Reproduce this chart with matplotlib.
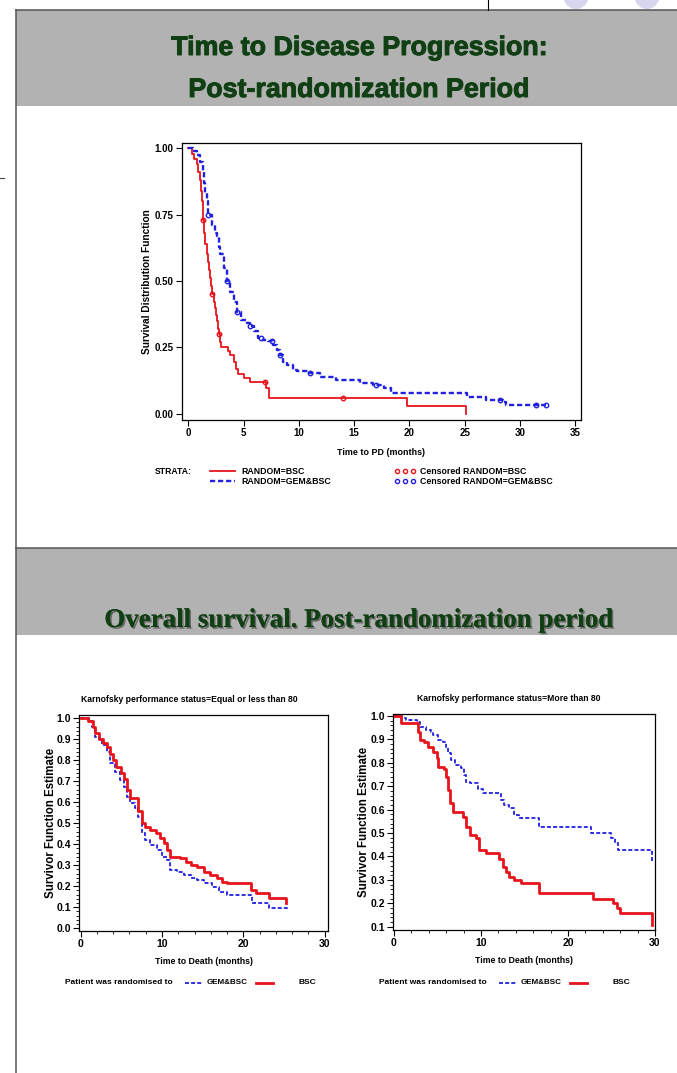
import numpy as np
import matplotlib
matplotlib.use("Agg")
import matplotlib.pyplot as plt
import matplotlib.patheffects as pe
from matplotlib.patches import Rectangle, Ellipse
from matplotlib.ticker import AutoMinorLocator, FormatStrFormatter

plt.rcParams['font.family'] = ['Liberation Sans', 'DejaVu Sans']
plt.rcParams['font.weight'] = 'bold'
plt.rcParams['axes.labelweight'] = 'bold'

RED = '#e8141c'
BLUE = '#2020e0'
GREEN = '#0f3f12'
GRAY = '#b2b2b2'

# Time to disease progression (months) - Kaplan-Meier steps
ttp_bsc_t = [0, 0.3, 0.5, 0.75, 0.9, 1.06, 1.15, 1.2, 1.3, 1.4, 1.5, 1.65, 1.8, 1.9, 1.96,
             2.05, 2.1, 2.3, 2.4, 2.5, 2.6, 2.7, 2.8, 2.9, 3.0, 3.6, 3.8, 4.1, 4.3, 4.5,
             5.0, 5.6, 7.0, 7.3, 19.8, 25.1]
ttp_bsc_s = [1.0, 0.98, 0.96, 0.94, 0.91, 0.88, 0.84, 0.80, 0.73, 0.68, 0.64, 0.60, 0.57, 0.54, 0.51,
             0.48, 0.45, 0.42, 0.40, 0.37, 0.35, 0.32, 0.30, 0.27, 0.25, 0.235, 0.22, 0.196, 0.17, 0.15,
             0.133, 0.12, 0.096, 0.058, 0.028, 0.0]
ttp_bsc_cens = [1.3, 2.1, 2.8, 6.9, 14.0]

ttp_gem_t = [0, 0.45, 0.75, 1.06, 1.36, 1.45, 1.5, 1.66, 1.8, 2.1, 2.4, 2.6, 2.75, 2.9, 3.2,
             3.5, 3.8, 4.1, 4.4, 4.8, 5.3, 5.6, 5.9, 6.3, 6.8, 7.2, 7.7, 8.0, 8.3, 8.6,
             8.9, 9.5, 9.8, 11.0, 11.9, 13.4, 15.5, 16.7, 17.7, 18.3, 25.2, 26.9, 28.5, 28.7, 32.4]
ttp_gem_s = [1.0, 0.99, 0.977, 0.95, 0.914, 0.87, 0.83, 0.80, 0.75, 0.71, 0.68, 0.67, 0.63, 0.60, 0.55,
             0.50, 0.46, 0.42, 0.385, 0.354, 0.341, 0.33, 0.31, 0.285, 0.278, 0.272, 0.26, 0.24, 0.22, 0.196,
             0.184, 0.165, 0.159, 0.152, 0.14, 0.127, 0.115, 0.108, 0.096, 0.077, 0.064, 0.052, 0.045, 0.033, 0.033]
ttp_gem_cens = [1.8, 3.5, 4.4, 5.6, 6.6, 7.6, 8.3, 11.0, 17.0, 28.2, 31.5, 32.4]

# Overall survival, Karnofsky <= 80
os_low_bsc_t = [0, 0.95, 1.56, 1.8, 2.2, 2.8, 3.2, 3.6, 4.0, 4.4, 4.9, 5.3, 5.7, 6.1, 7.1, 7.5,
                7.9, 8.5, 9.2, 9.8, 10.2, 10.6, 11.0, 12.2, 12.9, 13.5, 14.3, 15.1, 15.9, 16.8,
                17.4, 18.0, 20.9, 21.5, 23.1, 25.2]
os_low_bsc_s = [1.0, 0.985, 0.96, 0.93, 0.90, 0.88, 0.865, 0.83, 0.80, 0.77, 0.74, 0.71, 0.66, 0.62, 0.56, 0.50,
                0.484, 0.468, 0.452, 0.43, 0.405, 0.373, 0.34, 0.333, 0.317, 0.30, 0.29, 0.27, 0.254, 0.238,
                0.222, 0.214, 0.183, 0.167, 0.143, 0.12]
os_low_gem_t = [0, 1.0, 1.36, 1.77, 2.2, 2.6, 3.2, 3.6, 4.2, 4.85, 5.3, 5.7, 6.1, 6.7, 7.1, 7.5,
                7.9, 8.5, 9.4, 10.0, 10.6, 11.0, 11.8, 12.7, 13.5, 14.3, 15.1, 16.2, 17.0, 18.0,
                21.1, 23.2, 25.3]
os_low_gem_s = [1.0, 0.985, 0.96, 0.91, 0.90, 0.873, 0.84, 0.786, 0.746, 0.706, 0.675, 0.627, 0.595, 0.571, 0.53, 0.452,
                0.42, 0.397, 0.373, 0.34, 0.325, 0.278, 0.27, 0.254, 0.238, 0.23, 0.214, 0.198, 0.175, 0.159,
                0.119, 0.095, 0.08]

# Overall survival, Karnofsky > 80
os_high_bsc_t = [0, 0.8, 2.8, 3.0, 3.5, 3.9, 4.5, 4.9, 5.1, 5.8, 6.0, 6.2, 6.4, 6.8, 7.9, 8.3,
                 8.7, 9.4, 9.8, 10.6, 12.1, 12.5, 12.9, 13.2, 13.8, 14.6, 16.7, 22.9, 25.2, 25.6,
                 26.0, 29.6]
os_high_bsc_s = [1.0, 0.969, 0.93, 0.897, 0.89, 0.869, 0.848, 0.819, 0.78, 0.772, 0.74, 0.684, 0.627, 0.59, 0.57, 0.527,
                 0.49, 0.477, 0.427, 0.413, 0.39, 0.356, 0.335, 0.313, 0.30, 0.285, 0.242, 0.22, 0.20, 0.178,
                 0.157, 0.107]
os_high_gem_t = [0, 0.9, 1.4, 2.6, 3.0, 3.7, 4.3, 4.5, 5.1, 5.6, 6.0, 6.2, 6.6, 7.0, 7.7, 8.1,
                 8.3, 8.7, 9.6, 10.2, 12.3, 12.7, 13.2, 13.8, 14.4, 16.7, 22.7, 25.0, 25.4, 25.8, 29.6]
os_high_gem_s = [1.0, 0.99, 0.983, 0.976, 0.954, 0.94, 0.933, 0.919, 0.897, 0.89, 0.869, 0.84, 0.812, 0.79, 0.776, 0.748,
                 0.72, 0.712, 0.69, 0.672, 0.64, 0.62, 0.605, 0.577, 0.563, 0.527, 0.50, 0.477, 0.456, 0.427, 0.37]


def surv_at(t, s, x):
    i = np.searchsorted(t, x, side='right') - 1
    return np.asarray(s)[i]


def style_axes(ax, size=7):
    for sp in ax.spines.values():
        sp.set_linewidth(0.9)
    ax.tick_params(direction='out', length=4, width=0.8, labelsize=size, pad=2)
    ax.tick_params(which='minor', direction='out', length=2, width=0.6)
    ax.set_zorder(2)


fig = plt.figure(figsize=(6.77, 10.73), dpi=100)

# page background in pixel coordinates
bg = fig.add_axes([0, 0, 1, 1])
bg.set_xlim(0, 677)
bg.set_ylim(1073, 0)
bg.axis('off')
bg.set_zorder(0)

for cx in (576, 647):
    bg.add_patch(Ellipse((cx, -4), 25, 26, fc='#d6d6ef', ec='none', zorder=1))
bg.add_patch(Rectangle((16, 10), 661, 96, fc=GRAY, ec='none', zorder=2))
bg.add_patch(Rectangle((16, 548), 661, 87, fc=GRAY, ec='none', zorder=2))
bg.plot([16, 16], [10, 1073], color='#555555', lw=1.1, zorder=3)
bg.plot([16, 677], [10, 10], color='#555555', lw=1.1, zorder=3)
bg.plot([16, 677], [548, 548], color='#555555', lw=1.1, zorder=3)
bg.plot([488, 488], [0, 10], color='black', lw=0.8, zorder=3)
bg.plot([0, 4], [178, 178], color='#444444', lw=0.8, zorder=3)

heavy = [pe.withStroke(linewidth=0.7, foreground=GREEN)]
bg.text(358.5, 55, 'Time to Disease Progression:', ha='center', va='baseline',
        fontsize=19.3, color=GREEN, zorder=4, path_effects=heavy)
bg.text(358.5, 97, 'Post-randomization Period', ha='center', va='baseline',
        fontsize=19.3, color=GREEN, zorder=4, path_effects=heavy)
bg.text(358.5, 627, 'Overall survival. Post-randomization period', ha='center', va='baseline',
        family='Liberation Serif', fontsize=19.4, color=GREEN, zorder=4,
        path_effects=[pe.withSimplePatchShadow(offset=(1.2, -1.2), shadow_rgbFace='#222222', alpha=0.5),
                      pe.Normal()])

# --- Time to PD ---
ax1 = fig.add_axes([181.7 / 677, 1 - 420 / 1073, 399 / 677, 277.3 / 1073])
ax1.step(ttp_bsc_t, ttp_bsc_s, where='post', color=RED, lw=1.3)
ax1.step(ttp_gem_t, ttp_gem_s, where='post', color=BLUE, lw=1.7, dashes=(2.2, 1.2))
ax1.plot(ttp_bsc_cens, surv_at(ttp_bsc_t, ttp_bsc_s, ttp_bsc_cens), 'o', mfc='none',
         mec=RED, ms=3.2, mew=1.0)
ax1.plot(ttp_gem_cens, surv_at(ttp_gem_t, ttp_gem_s, ttp_gem_cens), 'o', mfc='none',
         mec=BLUE, ms=3.2, mew=1.0)
ax1.set_xlim(-0.6, 35.5)
ax1.set_ylim(-0.024, 1.0215)
ax1.set_xticks(np.arange(0, 36, 5))
ax1.set_yticks([0, 0.25, 0.5, 0.75, 1.0])
ax1.yaxis.set_major_formatter(FormatStrFormatter('%.2f'))
style_axes(ax1, size=7)
ax1.set_xlabel('Time to PD (months)', fontsize=6.4)
ax1.xaxis.set_label_coords(0.5, -0.101)
ax1.set_ylabel('Survival Distribution Function', fontsize=7.3)
ax1.yaxis.set_label_coords(-0.075, 0.5)

# strata legend
bg.text(155, 471, 'STRATA:', fontsize=6.2, va='center')
bg.plot([210, 235], [471, 471], color=RED, lw=1.3)
bg.plot([210, 235], [481, 481], color=BLUE, lw=1.7, dashes=(2.2, 1.2))
bg.text(241, 471, 'RANDOM=BSC', fontsize=6.3, va='center')
bg.text(241, 481, 'RANDOM=GEM&BSC', fontsize=6.3, va='center')
bg.plot([397, 405, 413], [471] * 3, 'o', mfc='none', mec=RED, ms=3, mew=1.0)
bg.plot([397, 405, 413], [481] * 3, 'o', mfc='none', mec=BLUE, ms=3, mew=1.0)
bg.text(420, 471, 'Censored RANDOM=BSC', fontsize=6.3, va='center')
bg.text(420, 481, 'Censored RANDOM=GEM&BSC', fontsize=6.3, va='center')

# --- Overall survival panels ---
panels = [
    ([79.3, 328, 715, 931], (-0.17, 30.4), (-0.013, 1.0157), np.arange(0, 1.01, 0.1),
     'Karnofsky performance status=Equal or less than 80',
     os_low_gem_t, os_low_gem_s, os_low_bsc_t, os_low_bsc_s),
    ([393.3, 655, 714.3, 930], (-0.08, 29.8), (0.086, 1.007), np.arange(0.1, 1.01, 0.1),
     'Karnofsky performance status=More than 80',
     os_high_gem_t, os_high_gem_s, os_high_bsc_t, os_high_bsc_s),
]

for (l, r, t, b), xl, yl, yt, title, gt, gs, bt, bs in panels:
    ax = fig.add_axes([l / 677, 1 - b / 1073, (r - l) / 677, (b - t) / 1073])
    ax.step(gt, gs, where='post', color=BLUE, lw=1.3, dashes=(2.2, 1.2))
    ax.step(bt, bs, where='post', color=RED, lw=2.0)
    ax.set_xlim(*xl)
    ax.set_ylim(*yl)
    ax.set_xticks([0, 10, 20, 30])
    ax.set_yticks(yt)
    ax.yaxis.set_major_formatter(FormatStrFormatter('%.1f'))
    ax.xaxis.set_minor_locator(AutoMinorLocator(5))
    ax.yaxis.set_minor_locator(AutoMinorLocator(5))
    style_axes(ax, size=7.5)
    ax.text(0.443, 1.072, title, transform=ax.transAxes, ha='center', va='center', fontsize=6.2)
    ax.set_xlabel('Time to Death (months)', fontsize=6.3)
    ax.xaxis.set_label_coords(0.5, -0.12)
    ax.set_ylabel('Survivor Function Estimate', fontsize=8.3)
    ax.yaxis.set_label_coords(-0.09, 0.5)

    # group legend below the panel
    ly = 983
    bg.text(l - 14, ly, 'Patient was randomised to', fontsize=6, va='center')
    bg.plot([l + 106, l + 124], [ly, ly], color=BLUE, lw=1.3, dashes=(2.2, 1.2))
    bg.text(l + 127, ly, 'GEM&BSC', fontsize=5.8, va='center')
    bg.plot([l + 177, l + 194], [ly, ly], color=RED, lw=2.0)
    bg.text(l + 219, ly, 'BSC', fontsize=6, va='center')

fig.savefig('out.png', dpi=100)
plt.close(fig)
